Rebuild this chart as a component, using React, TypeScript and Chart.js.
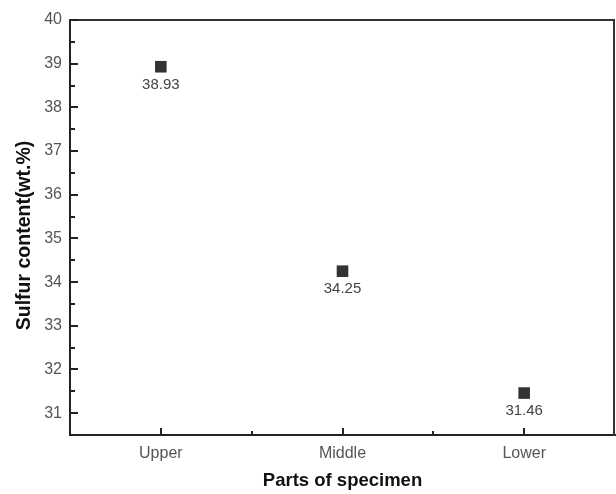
import React, { useEffect, useRef } from "react";
import { Chart, registerables } from "chart.js";

Chart.register(...registerables);

const categories = ["Upper", "Middle", "Lower"];
const sulfurValues = [38.93, 34.25, 31.46];
const yMajorTicks = [31, 32, 33, 34, 35, 36, 37, 38, 39, 40];
const yMinorTicks = [31.5, 32.5, 33.5, 34.5, 35.5, 36.5, 37.5, 38.5, 39.5];
const xMajorTicks = [0, 1, 2];
const xMinorTicks = [0.5, 1.5];
const xEdges = [-0.5, 2.5];
const yTitle = "Sulfur content(wt.%)";
const xTitle = "Parts of specimen";

const FONT = "Arial, 'Liberation Sans', sans-serif";

const framePlugin = {
  id: "frameTicks",
  afterDraw(chart: any) {
    const { ctx, chartArea } = chart;
    const { left, right, top, bottom } = chartArea;
    const xs = chart.scales.x;
    const ys = chart.scales.y;
    ctx.save();
    ctx.strokeStyle = "#333";
    ctx.lineWidth = 2;
    ctx.beginPath();
    ctx.moveTo(left - 1, top);
    ctx.lineTo(right - 1, top);
    ctx.lineTo(right - 1, bottom + 1);
    ctx.stroke();
    ctx.strokeStyle = "#222";
    ctx.beginPath();
    yMajorTicks.forEach((v) => {
      const y = Math.round(ys.getPixelForValue(v));
      ctx.moveTo(left, y);
      ctx.lineTo(left + 8, y);
    });
    yMinorTicks.forEach((v) => {
      const y = Math.round(ys.getPixelForValue(v));
      ctx.moveTo(left, y);
      ctx.lineTo(left + 5, y);
    });
    xMajorTicks.forEach((v) => {
      const x = Math.round(xs.getPixelForValue(v));
      ctx.moveTo(x, bottom);
      ctx.lineTo(x, bottom - 7);
    });
    xMinorTicks.forEach((v) => {
      const x = Math.round(xs.getPixelForValue(v));
      ctx.moveTo(x, bottom);
      ctx.lineTo(x, bottom - 4);
    });
    ctx.stroke();

    // rotated y-axis title
    ctx.translate(25, (top + bottom) / 2 + 8);
    ctx.rotate(-Math.PI / 2);
    ctx.fillStyle = "#111";
    ctx.font = `bold 19.5px ${FONT}`;
    ctx.textAlign = "center";
    ctx.textBaseline = "middle";
    ctx.fillText(yTitle, 0, 0);
    ctx.restore();
  },
  afterDatasetsDraw(chart: any) {
    const { ctx } = chart;
    const meta = chart.getDatasetMeta(0);
    ctx.save();
    ctx.fillStyle = "#444";
    ctx.font = `15px ${FONT}`;
    ctx.textAlign = "center";
    ctx.textBaseline = "middle";
    meta.data.forEach((pt: any, i: number) => {
      ctx.fillText(sulfurValues[i].toFixed(2), pt.x, pt.y + 18);
    });
    ctx.restore();
  },
};

export default function App() {
  const ref = useRef<HTMLCanvasElement | null>(null);
  useEffect(() => {
    if (!ref.current) return;
    const chart = new Chart(ref.current, {
      type: "scatter",
      data: {
        datasets: [
          {
            data: sulfurValues.map((v, i) => ({ x: i, y: v })),
            pointStyle: "rect",
            pointRadius: 8.2,
            backgroundColor: "#333",
            borderColor: "#333",
            borderWidth: 0,
          },
        ],
      },
      options: {
        animation: false,
        responsive: false,
        maintainAspectRatio: false,
        layout: { autoPadding: false, padding: { top: 20, right: 1, left: 0, bottom: 0 } },
        plugins: { legend: { display: false }, tooltip: { enabled: false } },
        scales: {
          x: {
            type: "linear",
            min: -0.5,
            max: 2.5,
            afterBuildTicks: (s: any) => {
              s.ticks = [xEdges[0], ...xMajorTicks, xEdges[1]].map((v) => ({ value: v }));
            },
            afterFit: (s: any) => {
              s.height = 59;
            },
            grid: { display: false, drawTicks: true, tickLength: 9 },
            border: { display: true, color: "#222", width: 2 },
            ticks: {
              padding: 0,
              color: "#555",
              autoSkip: false,
              maxRotation: 0,
              font: { family: FONT, size: 16 },
              callback: (v: any) => categories[v as number] ?? "",
            },
            title: {
              display: true,
              text: xTitle,
              color: "#111",
              font: { family: FONT, size: 18.5, weight: "bold" },
              padding: { top: 0, bottom: 2 },
            },
          },
          y: {
            min: 30.5,
            max: 40,
            afterBuildTicks: (s: any) => {
              s.ticks = yMajorTicks.map((v) => ({ value: v }));
            },
            afterFit: (s: any) => {
              s.width = 70;
            },
            grid: { display: false, drawTicks: false },
            border: { display: true, color: "#222", width: 2 },
            ticks: {
              padding: 8,
              color: "#555",
              font: { family: FONT, size: 16 },
              callback: (v: any) => String(v),
            },
            title: { display: false },
          },
        },
      },
      plugins: [framePlugin],
    } as any);
    return () => chart.destroy();
  }, []);
  return (
    <div style={{ position: "fixed", left: 0, top: 0, width: 616, height: 494, background: "#fff" }}>
      <canvas ref={ref} width={616} height={494} style={{ width: 616, height: 494 }} />
    </div>
  );
}
